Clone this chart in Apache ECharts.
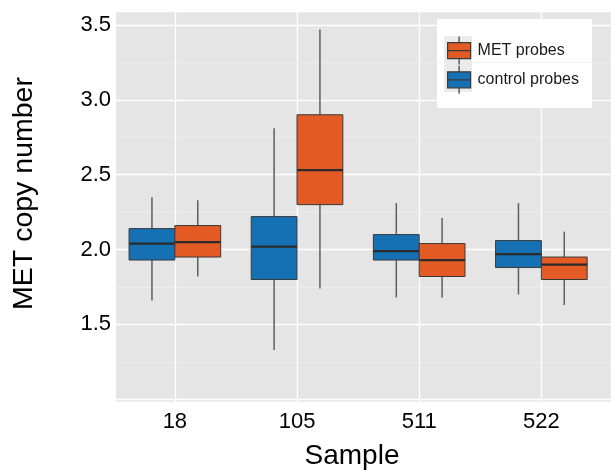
<!DOCTYPE html>
<html>
	<head>
		<meta charset="utf-8">
		<title>MET copy number</title>
		<script type="text/javascript" src="https://cdn.jsdelivr.net/npm/echarts@6/dist/echarts.min.js"></script>
		<style>
			body { margin: 0; background-color: #FFFFFF; }
		</style>
	</head>
	<body>
		<div id="chart" style="width: 611px;height:470px;"></div>
		<script type="text/javascript">
			// 样本名称
			var samples = ['18', '105', '511', '522'];
			// 每个样本: [下须, Q1, 中位数, Q3, 上须]
			var controlBoxes = [
				[1.66, 1.93, 2.04, 2.14, 2.35],
				[1.33, 1.80, 2.02, 2.22, 2.81],
				[1.68, 1.93, 1.99, 2.10, 2.31],
				[1.70, 1.88, 1.97, 2.06, 2.31]
			];
			var metBoxes = [
				[1.82, 1.95, 2.05, 2.16, 2.33],
				[1.74, 2.30, 2.53, 2.90, 3.47],
				[1.68, 1.82, 1.93, 2.04, 2.21],
				[1.63, 1.80, 1.90, 1.95, 2.12]
			];
			var yTicks = [1.5, 2.0, 2.5, 3.0, 3.5];
			var yMinorTicks = [1.25, 1.75, 2.25, 2.75, 3.25];

			var font = 'Liberation Sans, Arial, sans-serif';
			var boxW = 0.375;

			function toData(boxes) {
				return boxes.map(function(b, i) {
					return [i + 1].concat(b);
				});
			}

			// 画箱线图, offset 为左右偏移
			function boxRenderer(offset) {
				return function(params, api) {
					var x = api.value(0) + offset;
					var half = api.size([boxW, 0])[0] / 2;
					var lo = api.coord([x, api.value(1)]);
					var q1 = api.coord([x, api.value(2)]);
					var md = api.coord([x, api.value(3)]);
					var q3 = api.coord([x, api.value(4)]);
					var hi = api.coord([x, api.value(5)]);
					var whisker = { stroke: '#5c5f63', lineWidth: 1.5 };
					return {
						type: 'group',
						children: [
							{ type: 'line', shape: { x1: lo[0], y1: lo[1], x2: q1[0], y2: q1[1] }, style: whisker },
							{ type: 'line', shape: { x1: hi[0], y1: hi[1], x2: q3[0], y2: q3[1] }, style: whisker },
							{ type: 'rect', shape: { x: q3[0] - half, y: q3[1], width: half * 2, height: q1[1] - q3[1] },
								style: { fill: api.visual('color'), stroke: '#3a3a3a', lineWidth: 1 } },
							{ type: 'line', shape: { x1: md[0] - half, y1: md[1], x2: md[0] + half, y2: md[1] },
								style: { stroke: '#2b2b2b', lineWidth: 2.2 } }
						]
					};
				};
			}

			var myChart = echarts.init(document.getElementById('chart'));
			var option = {
				animation: false,
				textStyle: { fontFamily: font },
				grid: {
					left: 115,
					right: 0,
					top: 11,
					bottom: 68,
					outerBoundsMode: 'none',
					containLabel: false,
					show: true,
					backgroundColor: '#e5e5e5',
					borderWidth: 0
				},
				graphic: [
					{ type: 'rect', z: 1, shape: { x: 437, y: 19, width: 155, height: 89 }, style: { fill: '#ffffff' } },
					{ type: 'rect', z: 2, shape: { x: 444, y: 36, width: 28, height: 28 }, style: { fill: '#ebebeb' } },
					{ type: 'rect', z: 2, shape: { x: 444, y: 64, width: 28, height: 28 }, style: { fill: '#ebebeb' } }
				],
				legend: {
					orient: 'vertical',
					left: 447,
					top: 36,
					padding: 0,
					itemGap: 0,
					itemWidth: 23,
					itemHeight: 28,
					z: 10,
					data: [
						{ name: 'MET probes', icon: 'path://M11.5,0L11.5,6M0,6L23,6L23,22L0,22ZM0,14L23,14M11.5,22L11.5,28' },
						{ name: 'control probes', icon: 'path://M11.5,0L11.5,6M0,6L23,6L23,22L0,22ZM0,14L23,14M11.5,22L11.5,28' }
					],
					itemStyle: { borderColor: '#3a3a3a', borderWidth: 1.2 },
					textStyle: { fontSize: 16, color: '#1a1a1a', fontFamily: font, padding: [0, 0, 0, 2] }
				},
				xAxis: {
					type: 'value',
					min: 0.51,
					max: 4.57,
					minInterval: 1,
					maxInterval: 1,
					name: 'Sample',
					nameLocation: 'middle',
					nameGap: 40,
					nameTextStyle: { fontSize: 28, color: '#000', fontFamily: font, padding: [0, 22, 0, 0] },
					axisLine: { show: false },
					axisTick: { show: false },
					axisLabel: {
						margin: 9,
						fontSize: 22,
						color: '#000',
						showMinLabel: false,
						showMaxLabel: false,
						formatter: function(v) {
							return Math.abs(v - Math.round(v)) < 1e-6 ? (samples[Math.round(v) - 1] || '') : '';
						}
					},
					splitLine: { show: true, lineStyle: { color: '#ffffff', width: 1.3 } }
				},
				yAxis: {
					type: 'value',
					min: 0.982,
					max: 3.593,
					minInterval: 0.5,
					maxInterval: 0.5,
					name: 'MET copy number',
					nameLocation: 'middle',
					nameGap: 76,
					nameTextStyle: { fontSize: 28.5, color: '#000', fontFamily: font, padding: [0, 0, 0, 26] },
					axisLine: { show: false },
					axisTick: { show: false },
					axisLabel: {
						margin: 4,
						fontSize: 22,
						color: '#000',
						padding: [4, 0, 0, 0],
						showMinLabel: false,
						showMaxLabel: false,
						formatter: function(v) {
							for (var i = 0; i < yTicks.length; i++) {
								if (Math.abs(v - yTicks[i]) < 1e-6) return yTicks[i].toFixed(1);
							}
							return '';
						}
					},
					splitLine: { show: true, lineStyle: { color: '#ffffff', width: 1.3 } }
				},
				series: [
					{
						// 次网格线
						type: 'line',
						data: [],
						silent: true,
						z: 1,
						markLine: {
							silent: true,
							z: 1,
							symbol: 'none',
							label: { show: false },
							lineStyle: { color: '#f0f0f0', width: 0.8, type: 'solid' },
							data: yMinorTicks.map(function(v) { return { yAxis: v }; })
						}
					},
					{
						name: 'control probes',
						type: 'custom',
						itemStyle: { color: '#1670b4', borderColor: '#3a3a3a', borderWidth: 1 },
						encode: { x: 0, y: [1, 2, 3, 4, 5] },
						renderItem: boxRenderer(-boxW / 2),
						data: toData(controlBoxes),
						z: 5
					},
					{
						name: 'MET probes',
						type: 'custom',
						itemStyle: { color: '#e35a25', borderColor: '#3a3a3a', borderWidth: 1 },
						encode: { x: 0, y: [1, 2, 3, 4, 5] },
						renderItem: boxRenderer(boxW / 2),
						data: toData(metBoxes),
						z: 5
					}
				]
			};
			myChart.setOption(option);
		</script>
	</body>
</html>
